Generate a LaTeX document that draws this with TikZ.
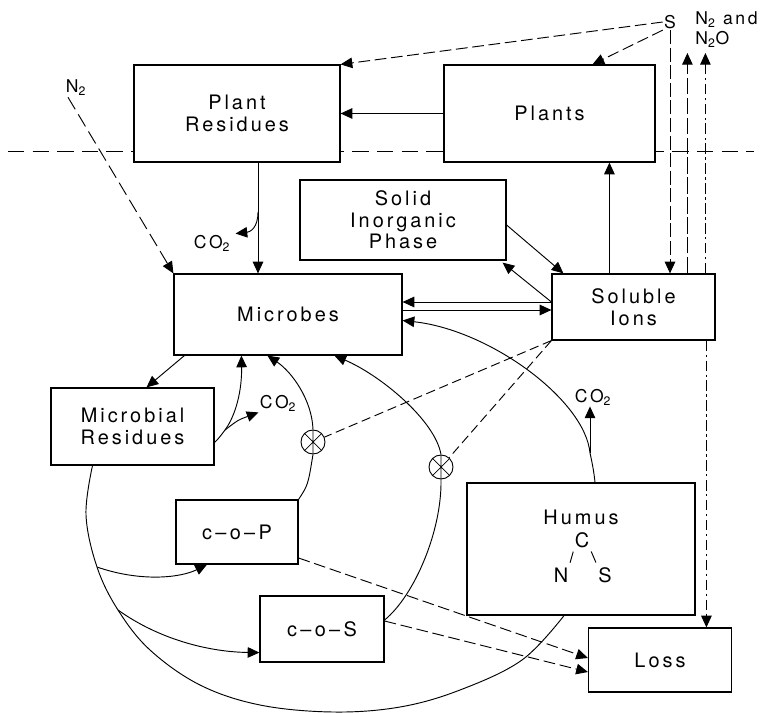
\documentclass[tikz,border=0pt]{standalone}
\usepackage{fontspec}
\setmainfont{TeX Gyre Heros}[LetterSpace=15]
\usetikzlibrary{arrows.meta,calc}

\begin{document}
\begin{tikzpicture}[x=0.03cm,y=-0.03cm,
  box/.style={draw,fill=white,line width=1pt,inner sep=0pt,align=center,
    font=\fontsize{17}{18.5}\selectfont},
  small/.style={inner sep=1pt,font=\fontsize{15}{17}\selectfont},
  flow/.style={line width=0.8pt},
  arr/.style={flow,-{Triangle[length=10pt,width=9pt]}},
  dasharr/.style={arr,dash pattern=on 10pt off 4pt},
  dashflow/.style={flow,dash pattern=on 8pt off 4pt},
  cross/.style={draw,circle,line width=0.8pt,minimum size=0.72cm,inner sep=0pt,fill=white,
    path picture={\draw[line width=0.6pt] (path picture bounding box.north) -- (path picture bounding box.south)
      (path picture bounding box.north west) -- (path picture bounding box.south east)
      (path picture bounding box.north east) -- (path picture bounding box.south west);}}]
  \useasboundingbox (0,0) rectangle (764,713);
  \coordinate (soilL) at (8,151);
  \coordinate (soilR) at (754,151);
  \draw[line width=0.6pt,dash pattern=on 14pt off 7pt] (soilL) -- (soilR);

  \node[box,minimum width=6.18cm,minimum height=2.91cm] (res) at (237,113.5) {Plant\\Residues};
  \node[box,minimum width=6.33cm,minimum height=2.91cm] (plants) at (549.5,113.5) {Plants};
  \node[box,minimum width=6.18cm,minimum height=2.4cm] (solid) at (403,220) {Solid\\Inorganic\\Phase};
  \node[box,minimum width=6.84cm,minimum height=2.43cm] (microbes) at (288,314.5) {Microbes};
  \node[box,minimum width=4.89cm,minimum height=1.98cm] (ions) at (633.5,307) {Soluble\\Ions};
  \node[box,minimum width=4.89cm,minimum height=2.31cm] (mres) at (132.5,426.5) {Microbial\\Residues};
  \node[box,minimum width=3.66cm,minimum height=1.92cm] (cop) at (237,532) {c\,–\,o\,–\,P};
  \node[box,minimum width=3.72cm,minimum height=1.98cm] (cos) at (322,629) {c\,–\,o\,–\,S};
  \node[box,minimum width=6.84cm,minimum height=3.96cm] (humus) at (581,549) {};
  \node[box,minimum width=4.29cm,minimum height=1.92cm] (loss) at (660,660) {Loss};

  \node[box,draw=none] (humtxt) at (581,517) {Humus};
  \node[box,draw=none] (hc) at (582,540) {C};
  \node[box,draw=none] (hn) at (561,575) {N};
  \node[box,draw=none] (hs) at (605,575) {S};
  \draw[flow,shorten <=3pt,shorten >=4pt] (hc.south west) -- (hn.north east);
  \draw[flow,shorten <=3pt,shorten >=4pt] (hc.south east) -- (hs.north west);

  \node[small] (s) at (670,22) {S};
  \node[small,anchor=north west,align=left] (gas) at (694,10) {N\textsubscript{2} and\\N\textsubscript{2}O};
  \coordinate (gtop) at (0,53);
  \draw[dasharr] (s.west) -- (res.north east);
  \draw[dasharr] (s.south west) -- ($(plants.north)+(43,0)$);
  \draw[dasharr,dash pattern=on 12pt off 3pt] (s.south) -- (s.south |- ions.north);
  \draw[arr,dash pattern=on 14pt off 3pt] ($(ions.north west)+(136,0)$) coordinate (g1) -- (g1 |- gtop);
  \draw[arr,dash pattern=on 9pt off 3pt on 2pt off 3pt] ($(ions.north west)+(154,0)$) coordinate (g2) -- (g2 |- gtop);
  \draw[arr,dash pattern=on 9pt off 3pt on 2pt off 3pt] ($(ions.south west)+(155,0)$) coordinate (g3) -- (g3 |- loss.north);

  \node[small] (n2) at (76,88) {N\textsubscript{2}};
  \draw[arr,dash pattern=on 12pt off 5pt] ($(n2.south)+(-8,0)$) -- (microbes.north west);

  \draw[arr] (plants.west) -- (res.east);
  \coordinate (rbr) at (258,212);
  \node[small] (co2a) at (212,243) {CO\textsubscript{2}};
  \draw[arr] (res.south -| rbr) -- (microbes.north -| rbr);
  \draw[arr] (rbr) .. controls (258,228) and (250,232) .. ($(co2a.north east)+(4,0)$);

  \draw[arr] ($(solid.east)+(0,5)$) -- ($(ions.north west)+(12,0)$);
  \draw[arr] ($(ions.west)+(0,-5)$) -- ($(solid.south east)+(-4,2)$);
  \draw[arr] ($(ions.north west)+(58,0)$) coordinate (up) -- (up |- plants.south);
  \draw[arr] ($(ions.west)+(0,-5)$) coordinate (ml) -- (ml -| microbes.east);
  \draw[arr] ($(microbes.east)+(0,-4.5)$) coordinate (mr) -- (mr -| ions.west);

  \coordinate (hbr) at (590,453);
  \node[small] (co2c) at (593,397) {CO\textsubscript{2}};
  \draw[arr] ($(humus.north)+(14,0)$) .. controls (594,472) and (592,462) .. (hbr)
    .. controls (585,400) and (490,330) .. ($(microbes.east)+(0,6)$);
  \draw[arr] (hbr) -- (hbr |- co2c.south);

  \draw[arr] ($(microbes.south west)+(11,0)$) -- ($(mres.north)+(14,0)$);
  \coordinate (mbr) at (225,430);
  \node[small] (co2b) at (278,403) {CO\textsubscript{2}};
  \draw[arr] ($(mres.east)+(0,16)$) .. controls (219,438) .. (mbr)
    .. controls (236,415) and (242,390) .. ($(microbes.south west)+(68,0)$);
  \draw[arr] (mbr) .. controls (238,420) .. (co2b.south west);

  \node[cross] (x1) at (313,442) {};
  \node[cross] (x2) at (441,467) {};
  \draw[flow] (cop.north east) .. controls (308,485) .. (x1.south);
  \draw[arr] (x1.north) .. controls (312,400) and (292,372) .. ($(microbes.south west)+(94,0)$);
  \draw[flow] ($(cos.east)+(0,-9)$) .. controls (415,595) and (442,530) .. (x2.south);
  \draw[arr] (x2.north) .. controls (435,420) and (380,375) .. ($(microbes.south west)+(161,0)$);
  \draw[dashflow] (ions.south west) -- (x1);
  \draw[dashflow] (ions.south west) -- (x2);

  \draw[dasharr] ($(cop.east)+(0,26)$) -- ($(loss.west)+(0,-2)$);
  \draw[dasharr] ($(cos.east)+(0,-8)$) -- ($(loss.west)+(0,12)$);

  \coordinate (lp0) at ($(mres.south)+(-40,0)$);
  \coordinate (lp1) at (97,567);
  \coordinate (lp2) at (118,610);
  \coordinate (lpe) at ($(humus.south)+(-17,0)$);
  \draw[flow] plot[smooth,tension=0.6] coordinates {(lp0) (86,515) (lp1) (lp2) (150,650) (200,685)
    (260,705) (333,712) (400,707) (460,690) (522,660) (lpe)};
  \draw[arr] (lp1) .. controls (140,582) and (180,578) .. ($(cop.south)+(-30,0)$);
  \draw[arr] (lp2) .. controls (160,640) and (210,652) .. ($(cos.south west)+(0,-10)$);
\end{tikzpicture}
\end{document}
